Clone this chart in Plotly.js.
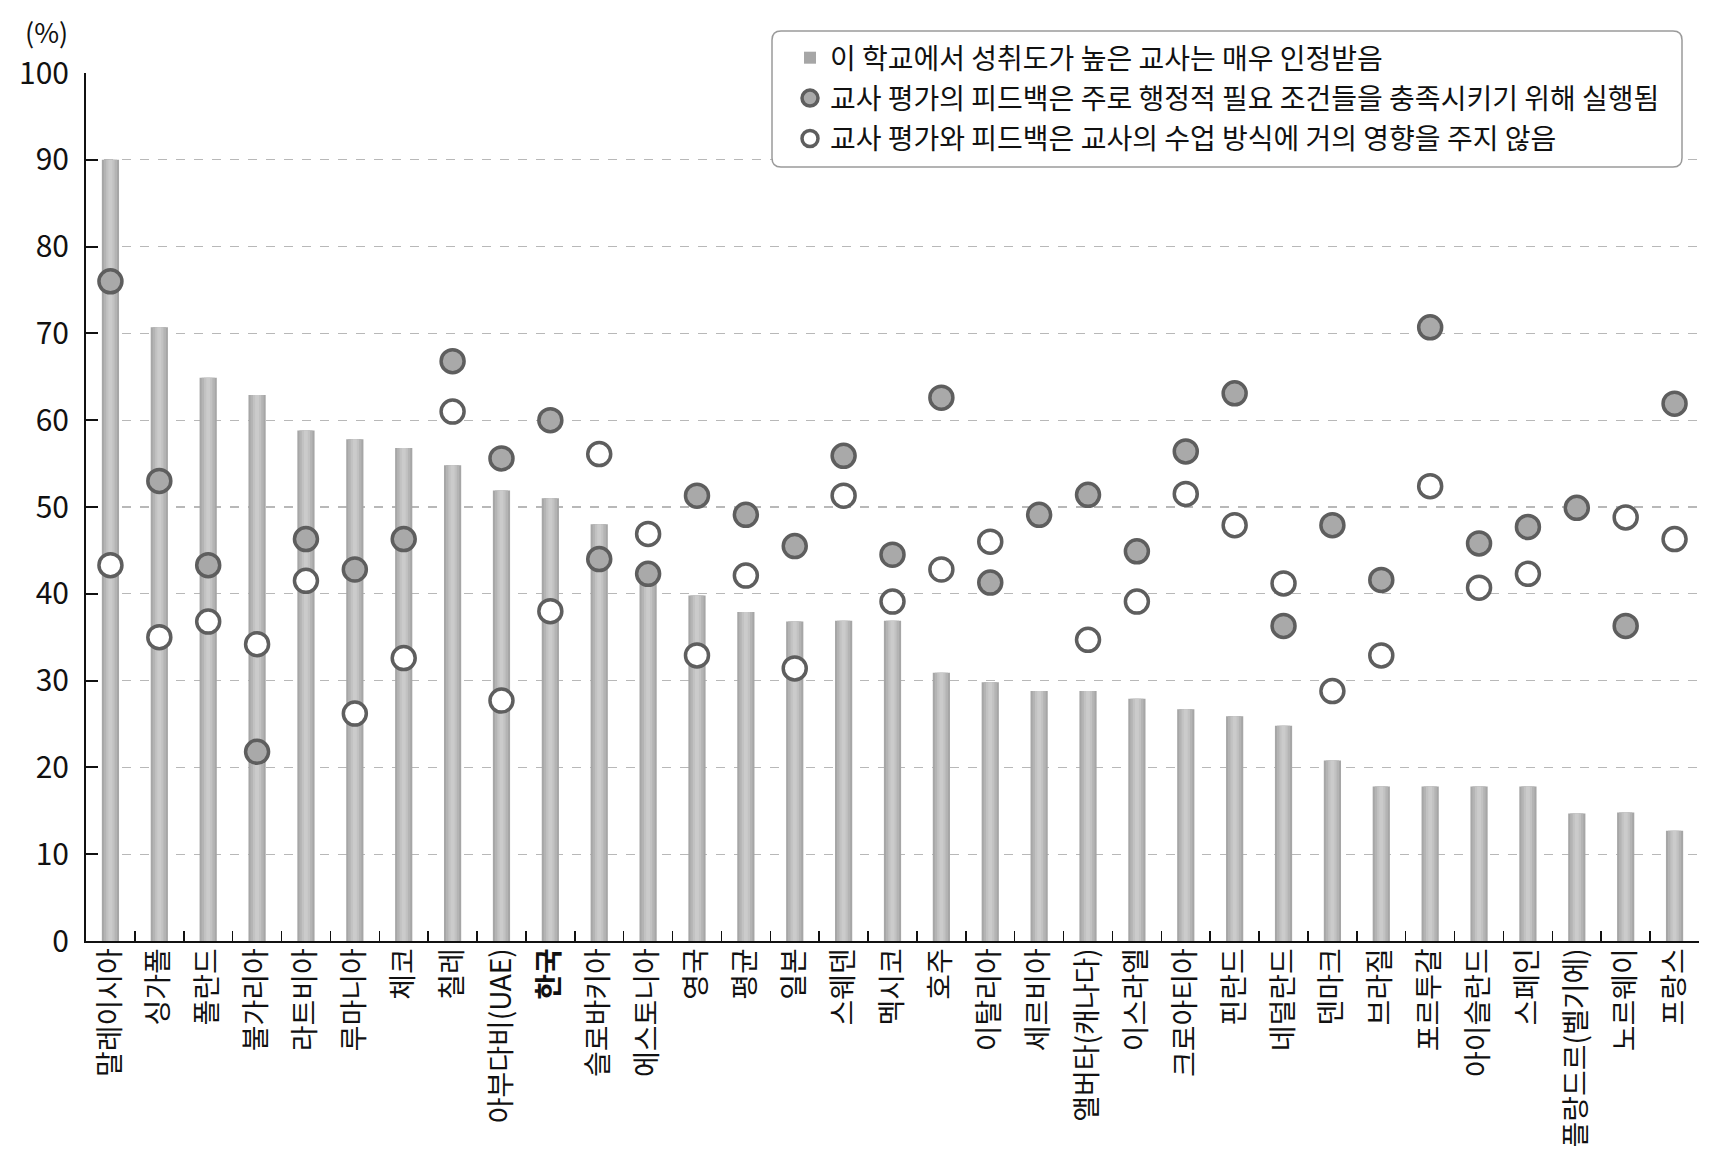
<!DOCTYPE html>
<html>
<head>
<meta charset="utf-8">
<script src="https://cdn.plot.ly/plotly-3.0.1.min.js"></script>
<style>
  html, body { margin: 0; padding: 0; background: #fff; }
  #chart { width: 1724px; height: 1157px; }
</style>
</head>
<body>
<div id="chart"></div>
<script>
// ---- data ----
const countries = ['말레이시아','싱가폴','폴란드','불가리아','라트비아','루마니아','체코','칠레','아부다비(UAE)','한국','슬로바키아','에스토니아','영국','평균','일본','스웨덴','멕시코','호주','이탈리아','세르비아','앨버타(캐나다)','이스라엘','크로아티아','핀란드','네덜란드','덴마크','브라질','포르투갈','아이슬란드','스페인','플랑드르(벨기에)','노르웨이','프랑스'];

const recognized = [90, 70.7, 64.9, 62.9, 58.8, 57.8, 56.8, 54.8, 51.9, 51.0, 48.0, 42.6, 39.8, 37.9, 36.8, 36.9, 36.9, 30.9, 29.8, 28.8, 28.8, 27.9, 26.7, 25.9, 24.8, 20.8, 17.8, 17.8, 17.8, 17.8, 14.7, 14.8, 12.7];

const adminFeedback = [76, 53, 43.3, 21.8, 46.3, 42.8, 46.3, 66.8, 55.6, 60, 44, 42.3, 51.3, 49.1, 45.5, 55.9, 44.5, 62.6, 41.3, 49.1, 51.4, 44.9, 56.4, 63.1, 36.3, 47.9, 41.6, 70.7, 45.8, 47.7, 49.9, 36.3, 61.9];

const littleImpact = [43.3, 35.0, 36.8, 34.2, 41.5, 26.2, 32.6, 61.0, 27.7, 38.0, 56.1, 46.9, 32.9, 42.1, 31.4, 51.3, 39.1, 42.8, 46.0, null, 34.7, 39.1, 51.5, 47.9, 41.2, 28.8, 32.9, 52.4, 40.7, 42.3, null, 48.8, 46.3];

const seriesNames = ['이 학교에서 성취도가 높은 교사는 매우 인정받음',
                     '교사 평가의 피드백은 주로 행정적 필요 조건들을 충족시키기 위해 실행됨',
                     '교사 평가와 피드백은 교사의 수업 방식에 거의 영향을 주지 않음'];
const yTicks = [0,10,20,30,40,50,60,70,80,90,100];
const highlight = '한국';

// ---- layout helpers ----
const W = 1724, H = 1157;
const M = {l: 86, r: 25, t: 73, b: 216};
const PW = W - M.l - M.r, PH = H - M.t - M.b;
const px2x = p => (p - M.l) / PW;
const px2y = p => (H - M.b - p) / PH;
function roundRect(x0, y0, x1, y1, r) {
  const X = px2x, Y = px2y;
  return `M ${X(x0+r)} ${Y(y0)} L ${X(x1-r)} ${Y(y0)} Q ${X(x1)} ${Y(y0)} ${X(x1)} ${Y(y0+r)} ` +
         `L ${X(x1)} ${Y(y1-r)} Q ${X(x1)} ${Y(y1)} ${X(x1-r)} ${Y(y1)} ` +
         `L ${X(x0+r)} ${Y(y1)} Q ${X(x0)} ${Y(y1)} ${X(x0)} ${Y(y1-r)} ` +
         `L ${X(x0)} ${Y(y0+r)} Q ${X(x0)} ${Y(y0)} ${X(x0+r)} ${Y(y0)} Z`;
}

const FONT = '"Noto Sans CJK KR", "Noto Sans", sans-serif';

const barLayers = [
  {w: 0.352, c: '#a6a6a6', legend: true},
  {w: 0.27,  c: '#b4b4b4', legend: false},
  {w: 0.17,  c: '#c2c2c2', legend: false},
  {w: 0.08,  c: '#cbcbcb', legend: false}
];

const traces = barLayers.map((b, i) => ({
  type: 'bar',
  x: countries,
  y: recognized,
  width: b.w,
  name: seriesNames[0],
  legendgroup: 'g1',
  showlegend: b.legend,
  marker: {color: b.c, line: {width: 0}},
  hoverinfo: i === 0 ? 'x+y' : 'skip'
}));

traces.push({
  type: 'scatter', mode: 'markers',
  x: countries, y: adminFeedback,
  name: seriesNames[1], legendgroup: 'g2',
  marker: {size: 23, color: '#a9a9a9', line: {color: '#5e5e5e', width: 3.5}},
  cliponaxis: false
});
traces.push({
  type: 'scatter', mode: 'markers',
  x: countries, y: littleImpact,
  name: seriesNames[2], legendgroup: 'g3',
  marker: {size: 23, color: '#ffffff', line: {color: '#5e5e5e', width: 3.5}},
  cliponaxis: false
});

const layout = {
  width: W, height: H,
  margin: M,
  paper_bgcolor: '#fff', plot_bgcolor: '#fff',
  font: {family: FONT, color: '#111', size: 28},
  barmode: 'overlay',
  showlegend: true,
  legend: {
    x: px2x(790), y: px2y(33), xanchor: 'left', yanchor: 'top',
    bgcolor: 'rgba(0,0,0,0)', borderwidth: 0,
    font: {family: FONT, size: 28, color: '#111'},
    tracegroupgap: 1,
    itemsizing: 'trace'
  },
  xaxis: {
    type: 'category',
    range: [-0.5, countries.length - 0.5],
    tickmode: 'array',
    tickvals: countries,
    ticktext: countries.map(c => c === highlight ? '<b>' + c + '</b>' : c),
    tickangle: -90,
    tickfont: {family: FONT, size: 28, color: '#111'},
    ticks: 'inside', tickson: 'boundaries', ticklen: 10, tickwidth: 1.5, tickcolor: '#111',
    ticklabelstandoff: -6,
    showline: true, linecolor: '#111', linewidth: 2,
    showgrid: false, zeroline: false, fixedrange: true
  },
  yaxis: {
    range: [0, 100],
    tickmode: 'array', tickvals: yTicks,
    tickfont: {family: FONT, size: 30, color: '#111'},
    ticks: 'inside', ticklen: 12, tickwidth: 2, tickcolor: '#111',
    ticklabelstandoff: 9,
    showline: true, linecolor: '#111', linewidth: 2,
    showgrid: true, gridcolor: '#b8b8b8', griddash: 'dash', gridwidth: 1.3,
    zeroline: false, fixedrange: true
  },
  shapes: [{
    type: 'path', xref: 'paper', yref: 'paper', layer: 'above',
    path: roundRect(772, 31, 1682, 167, 9),
    fillcolor: '#ffffff', line: {color: '#9a9a9a', width: 1.5}
  }],
  annotations: [{
    text: '(%)', xref: 'paper', yref: 'paper',
    x: px2x(46), y: px2y(31), xanchor: 'center', yanchor: 'middle',
    showarrow: false, font: {family: FONT, size: 27, color: '#111'}
  }]
};

Plotly.newPlot('chart', traces, layout, {displayModeBar: false, staticPlot: true});
</script>
</body>
</html>
